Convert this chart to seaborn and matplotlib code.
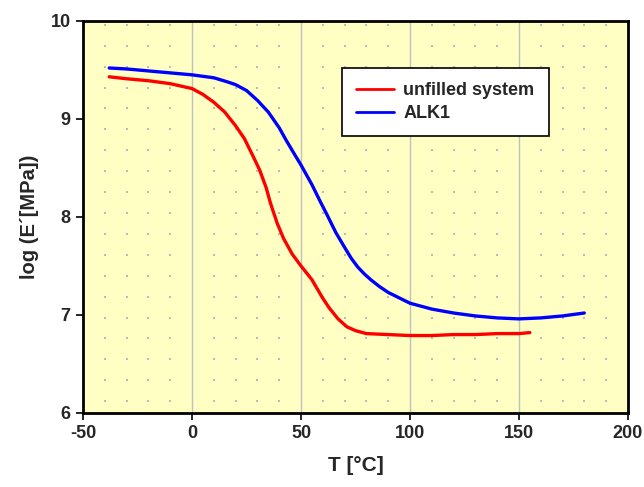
import numpy as np
import pandas as pd
import matplotlib
matplotlib.use("Agg")
import matplotlib.pyplot as plt
import seaborn as sns

# Data
t_unfilled = [-38, -30, -20, -10, 0, 5, 10, 15, 20, 24, 28, 31, 34, 36, 39, 42, 46,
              50, 55, 60, 63, 67, 71, 75, 80, 90, 100, 110, 120, 130, 140, 150, 155]
e_unfilled = [9.43, 9.41, 9.39, 9.36, 9.31, 9.25, 9.17, 9.07, 8.93, 8.80, 8.62, 8.48,
              8.30, 8.14, 7.94, 7.78, 7.62, 7.50, 7.36, 7.17, 7.07, 6.96, 6.88, 6.84,
              6.81, 6.80, 6.79, 6.79, 6.80, 6.80, 6.81, 6.81, 6.82]
t_alk1 = [-38, -30, -20, -10, 0, 10, 16, 20, 25, 30, 35, 40, 43, 47, 50, 55, 59, 62,
          66, 70, 73, 76, 79, 82, 86, 90, 100, 110, 120, 130, 140, 150, 160, 170, 180]
e_alk1 = [9.52, 9.51, 9.49, 9.47, 9.45, 9.42, 9.38, 9.35, 9.29, 9.19, 9.07, 8.91,
          8.79, 8.64, 8.53, 8.33, 8.15, 8.02, 7.84, 7.69, 7.58, 7.49, 7.42, 7.36,
          7.29, 7.23, 7.12, 7.06, 7.02, 6.99, 6.97, 6.96, 6.97, 6.99, 7.02]
series_names = ["unfilled system", "ALK1"]
x_ticks = [-50, 0, 50, 100, 150, 200]
y_ticks = [6, 7, 8, 9, 10]

df = pd.concat([
    pd.DataFrame({"T": t_unfilled, "E": e_unfilled, "series": series_names[0]}),
    pd.DataFrame({"T": t_alk1, "E": e_alk1, "series": series_names[1]}),
], ignore_index=True)

sns.set_theme(style="white")
plt.rcParams["font.family"] = ["Liberation Sans", "DejaVu Sans"]
plt.rcParams["font.weight"] = "bold"
plt.rcParams["axes.unicode_minus"] = False

fig = plt.figure(figsize=(6.44, 4.87), dpi=100)
ax = fig.add_axes([0.129, 0.152, 0.846, 0.805])
ax.set_facecolor("#FFFFC4")

# background dot pattern
dx = [v for v in range(-40, 200, 10) if v % 50 != 0]
dy = np.linspace(6.12, 9.96, 19)
gx, gy = np.meshgrid(dx, dy)
ax.scatter(gx.ravel(), gy.ravel(), s=1.2, color="#BBBBBB", marker="s",
           linewidths=0, zorder=0.5)

for v in x_ticks[1:-1]:
    ax.axvline(v, color="#C0C0C0", lw=1.0, zorder=0.6)

sns.lineplot(data=df, x="T", y="E", hue="series", palette=["#FF0000", "#0000FF"],
             linewidth=2.4, ax=ax, sort=False, legend=True, zorder=3)

ax.set_xlim(-50, 200)
ax.set_ylim(6, 10)
ax.set_xticks(x_ticks)
ax.set_yticks(y_ticks)
ax.tick_params(axis="both", which="major", direction="out", length=5, width=1.2,
               color="black", labelsize=13, pad=4, bottom=True, left=True)
for lab in ax.get_xticklabels() + ax.get_yticklabels():
    lab.set_fontweight("bold")
for s in ax.spines.values():
    s.set_color("black")
    s.set_linewidth(2.0)

ax.set_xlabel("T [°C]", fontsize=15, fontweight="bold", labelpad=10)
ax.set_ylabel("log (E´[MPa])", fontsize=14.5, fontweight="bold", labelpad=8)

leg = ax.legend(loc="upper left", bbox_to_anchor=(0.475, 0.88), frameon=True,
                fancybox=False, shadow=False, fontsize=13, handlelength=2.1,
                borderpad=0.8, labelspacing=0.3, handletextpad=0.5,
                borderaxespad=0)
leg.get_frame().set_edgecolor("black")
leg.get_frame().set_linewidth(1.2)
leg.get_frame().set_facecolor("white")
leg.get_frame().set_alpha(1)
for txt in leg.get_texts():
    txt.set_fontweight("bold")
for line in leg.get_lines():
    line.set_linewidth(2.0)

fig.savefig("out.png", dpi=100, facecolor="white")
